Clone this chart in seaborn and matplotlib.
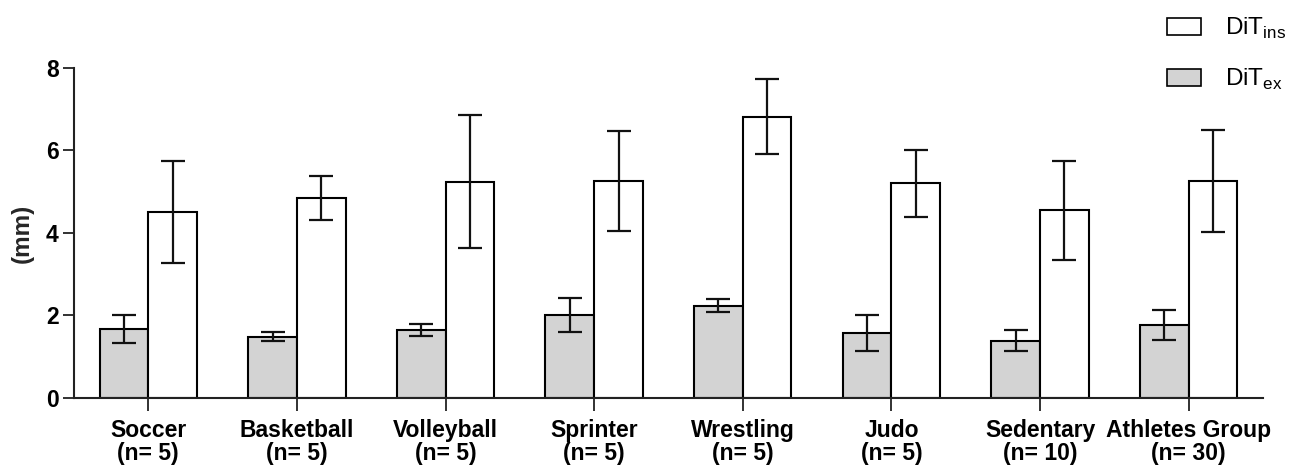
import matplotlib
matplotlib.use("Agg")
import matplotlib.pyplot as plt
from matplotlib.patches import Patch
import pandas as pd
import seaborn as sns

# Sport groups and their sample sizes
groups = ["Soccer", "Basketball", "Volleyball", "Sprinter", "Wrestling",
          "Judo", "Sedentary", "Athletes Group"]
n_sizes = [5, 5, 5, 5, 5, 5, 10, 30]

# Diaphragm thickness (mm): mean and SD for expiration / inspiration
ex_mean = [1.67, 1.48, 1.65, 2.01, 2.24, 1.58, 1.39, 1.77]
ex_sd = [0.33, 0.11, 0.14, 0.41, 0.16, 0.43, 0.25, 0.37]
ins_mean = [4.51, 4.85, 5.24, 5.26, 6.82, 5.20, 4.55, 5.26]
ins_sd = [1.24, 0.53, 1.61, 1.21, 0.91, 0.81, 1.20, 1.23]

EX = r"DiT$_{\mathregular{ex}}$"
INS = r"DiT$_{\mathregular{ins}}$"

sns.set_theme(style="ticks")
plt.rcParams["font.family"] = ["Liberation Sans", "DejaVu Sans"]
plt.rcParams["mathtext.fontset"] = "custom"
plt.rcParams["mathtext.rm"] = "Liberation Sans"
plt.rcParams["text.color"] = "black"

df = pd.DataFrame({
    "group": groups * 2,
    "cond": [EX] * len(groups) + [INS] * len(groups),
    "value": ex_mean + ins_mean,
})
sd_lookup = dict(zip([(g, EX) for g in groups] + [(g, INS) for g in groups],
                     ex_sd + ins_sd))

fig, ax = plt.subplots(figsize=(12.95, 4.67), dpi=100)
fig.subplots_adjust(left=0.0571, right=0.9753, bottom=0.1478, top=0.8544)

sns.barplot(data=df, x="group", y="value", hue="cond", hue_order=[EX, INS],
            order=groups, palette={EX: "#d3d3d3", INS: "white"},
            edgecolor="black", linewidth=1.5, width=0.655, gap=0,
            errorbar=None, legend=False, ax=ax)

# Error bars (mean ± SD) placed at the centre of each drawn bar
xs, ys, es = [], [], []
for p in ax.patches:
    h = p.get_height()
    if h <= 0:
        continue
    cx = p.get_x() + p.get_width() / 2
    gi = int(round(cx))
    cond = EX if cx < gi else INS
    xs.append(cx)
    ys.append(h)
    es.append(sd_lookup[(groups[gi], cond)])
ax.errorbar(xs, ys, yerr=es, fmt="none", ecolor="#111111", elinewidth=1.6,
            capsize=8.7, capthick=1.6, zorder=5)

ax.set_xlim(-0.5, 7.5)
ax.set_ylim(0, 8)
ax.set_yticks([0, 2, 4, 6, 8])
ax.set_yticklabels(["0", "2", "4", "6", "8"], fontsize=16.5, fontweight="bold")
ax.set_xticks(range(len(groups)))
ax.set_xticklabels([f"{g}\n(n= {n})" for g, n in zip(groups, n_sizes)],
                   fontsize=16.5, fontweight="bold", linespacing=1.02)
ax.set_xlabel("")
ax.set_ylabel("(mm)", fontsize=17.5, fontweight="bold", labelpad=9)

sns.despine(ax=ax)
for s in ["left", "bottom"]:
    ax.spines[s].set_linewidth(1.5)
    ax.spines[s].set_color("#222222")
ax.tick_params(axis="x", direction="out", length=9.4, width=1.3, pad=5.5,
               colors="#222222", labelcolor="black")
ax.tick_params(axis="y", direction="out", length=8, width=1.3, pad=3,
               colors="#222222", labelcolor="black")

handles = [Patch(facecolor="white", edgecolor="black", linewidth=1.2, label=INS),
           Patch(facecolor="#d3d3d3", edgecolor="black", linewidth=1.2, label=EX)]
fig.legend(handles=handles, loc="upper right", bbox_to_anchor=(1.005, 1.0),
           frameon=False, fontsize=17.5, handlelength=1.4, handleheight=0.7,
           handletextpad=0.95, labelspacing=1.05, borderpad=0.15,
           labelcolor="black")

fig.savefig("out.png", dpi=100)
